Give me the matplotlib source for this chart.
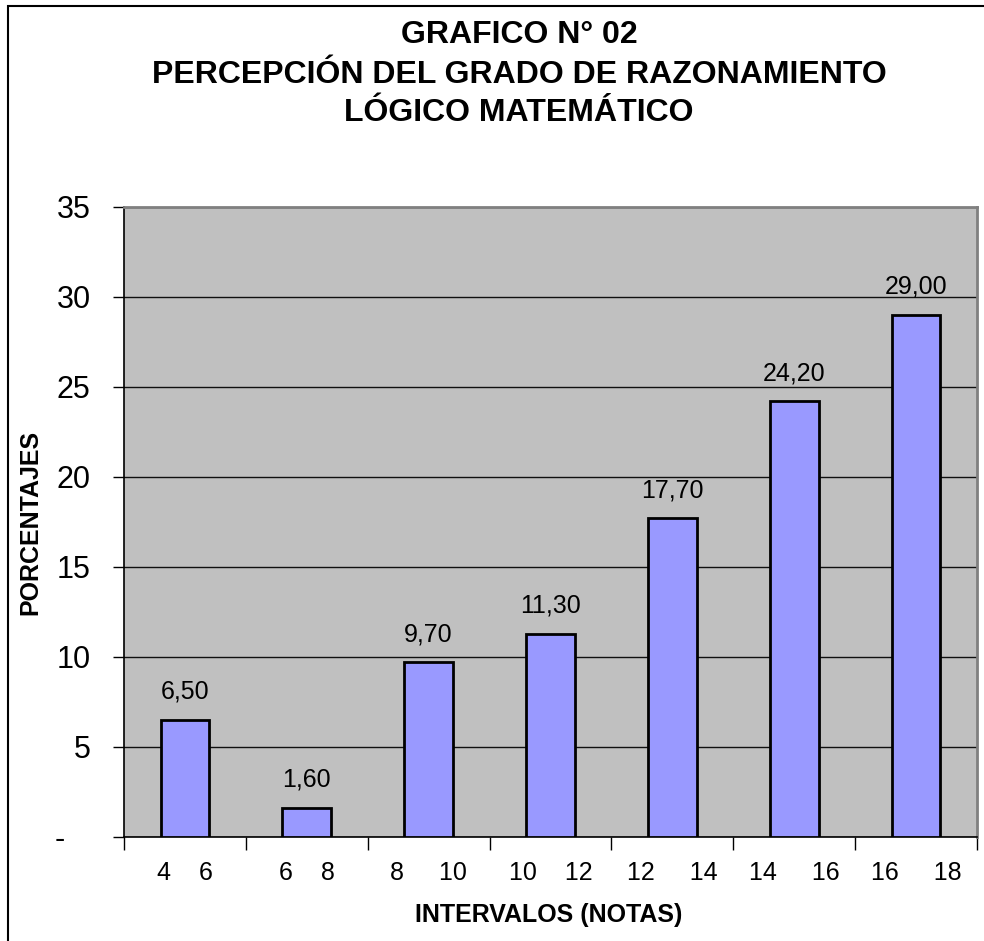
import numpy as np
import matplotlib.pyplot as plt
from matplotlib.patches import Rectangle

plt.rcParams['font.family'] = ['Liberation Sans', 'DejaVu Sans']

# Datos del grafico
intervalos = ['4    6', '6    8', '8     10', '10    12', '12     14', '14     16', '16     18']
porcentajes = [6.50, 1.60, 9.70, 11.30, 17.70, 24.20, 29.00]
y_ticks = [0, 5, 10, 15, 20, 25, 30, 35]
y_labels = ['-   ', '5', '10', '15', '20', '25', '30', '35']

fig = plt.figure(figsize=(9.84, 9.41), dpi=100)
ax = fig.add_axes([124 / 984, 1 - 837 / 941, 853 / 984, 630 / 941])
ax.set_facecolor('#C0C0C0')

x = np.arange(len(porcentajes))
ax.bar(x, porcentajes, width=0.4, color='#9999FF', edgecolor='black', linewidth=2, zorder=3)

for xi, v in zip(x, porcentajes):
    ax.text(xi, v + 0.9, f'{v:.2f}'.replace('.', ','), ha='center', va='bottom', fontsize=18)

ax.set_xlim(-0.5, len(porcentajes) - 0.5)
ax.set_ylim(0, 35)
ax.set_yticks(y_ticks)
ax.set_yticklabels(y_labels, fontsize=22)
ax.yaxis.grid(True, color='#101010', linewidth=1, zorder=1)
ax.set_axisbelow(True)

# ticks del eje x en los limites de cada intervalo
ax.set_xticks(np.arange(-0.5, len(porcentajes), 1.0))
ax.set_xticklabels([])
ax.set_xticks(x, minor=True)
ax.set_xticklabels(intervalos, minor=True, fontsize=18)
ax.tick_params(axis='x', which='major', length=9, width=1, direction='out')
ax.tick_params(axis='x', which='minor', length=0, pad=17)
ax.tick_params(axis='y', length=8, width=1, pad=16)

ax.spines['top'].set_color('#808080')
ax.spines['right'].set_color('#808080')
ax.spines['top'].set_linewidth(2)
ax.spines['right'].set_linewidth(2)
ax.spines['left'].set_linewidth(1.2)
ax.spines['bottom'].set_linewidth(1.2)

fig.text(519 / 984, 1 - 35 / 941, 'GRAFICO N° 02', ha='center', va='center', fontsize=23, fontweight='bold')
fig.text(519 / 984, 1 - 75 / 941, 'PERCEPCIÓN DEL GRADO DE RAZONAMIENTO', ha='center', va='center', fontsize=23, fontweight='bold')
fig.text(519 / 984, 1 - 113 / 941, 'LÓGICO MATEMÁTICO', ha='center', va='center', fontsize=23, fontweight='bold')

fig.text(549 / 984, 1 - 915 / 941, 'INTERVALOS (NOTAS)', ha='center', va='center', fontsize=18, fontweight='bold')
fig.text(30 / 984, 1 - 522 / 941, 'PORCENTAJES', ha='center', va='center', rotation=90, fontsize=18, fontweight='bold')

# marco exterior
fig.patches.append(Rectangle((8 / 984, -0.1), 1.2, 1 - 6 / 941 + 0.1, transform=fig.transFigure,
                             fill=False, edgecolor='black', linewidth=1.5))

fig.savefig('out.png', dpi=100)
